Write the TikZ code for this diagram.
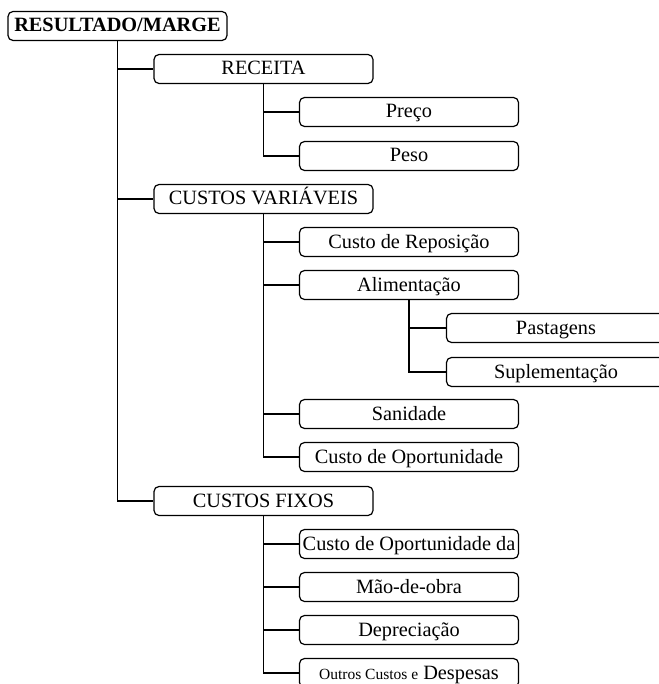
\documentclass[tikz,border=0pt]{standalone}
\usepackage{fontspec}
\setmainfont{Liberation Serif}
\usepackage{tikz}
\usetikzlibrary{positioning, calc}

\begin{document}
\begin{tikzpicture}[
            x=1pt, y=-1pt,
            kasten/.style={
                    draw,
                    rectangle,
                    rounded corners=5pt,
                    line width=1.2pt,
                    minimum width=219pt,
                    minimum height=29pt,
                    inner sep=0pt,
                    text height=14pt,
                    text depth=2pt,
                    fill=white,
                    text centered,
                    font=\fontsize{20.3}{23}\selectfont
                },
            wurzel/.style={
                    kasten,
                    font=\fontsize{20.3}{23}\selectfont\bfseries
                },
            ast/.style={
                    draw,
                    line width=1.8pt,
                    color=black
                }
        ]

        \useasboundingbox (0,0) rectangle (658,684);

        % Ebene 0 und 1
        \node[wurzel] (root) at (117.5,26) {RESULTADO/MARGE};
        \node[kasten] (receita) at (263.5,69) {RECEITA};
        \node[kasten] (cv) at (263.5,199) {CUSTOS VARIÁVEIS};
        \node[kasten] (cf) at (263.5,501) {CUSTOS FIXOS};

        % Ebene 2
        \node[kasten] (preco) at (409,112) {Preço};
        \node[kasten] (peso) at (409,156) {Peso};
        \node[kasten] (reposicao) at (409,242) {Custo de Reposição};
        \node[kasten] (alim) at (409,285) {Alimentação};
        \node[kasten] (sanidade) at (409,414) {Sanidade};
        \node[kasten] (oport) at (409,457) {Custo de Oportunidade};
        \node[kasten] (oportda) at (409,544) {Custo de Oportunidade da};
        \node[kasten] (maodeobra) at (409,587) {Mão-de-obra};
        \node[kasten] (deprec) at (409,630) {Depreciação};
        \node[kasten] (outros) at (409,673) {{\fontsize{15.5}{17}\selectfont Outros Custos e} Despesas};

        % Ebene 3
        \node[kasten] (pastagens) at (556,328) {Pastagens};
        \node[kasten] (suplem) at (556,372) {Suplementação};

        % Verbindungen
        \foreach \kind in {receita, cv, cf}
            \draw[ast] (root.south) |- (\kind.west);
        \foreach \kind in {preco, peso}
            \draw[ast] (receita.south) |- (\kind.west);
        \foreach \kind in {reposicao, alim, sanidade, oport}
            \draw[ast] (cv.south) |- (\kind.west);
        \foreach \kind in {pastagens, suplem}
            \draw[ast] (alim.south) |- (\kind.west);
        \foreach \kind in {oportda, maodeobra, deprec, outros}
            \draw[ast] (cf.south) |- (\kind.west);

    \end{tikzpicture}
\end{document}
